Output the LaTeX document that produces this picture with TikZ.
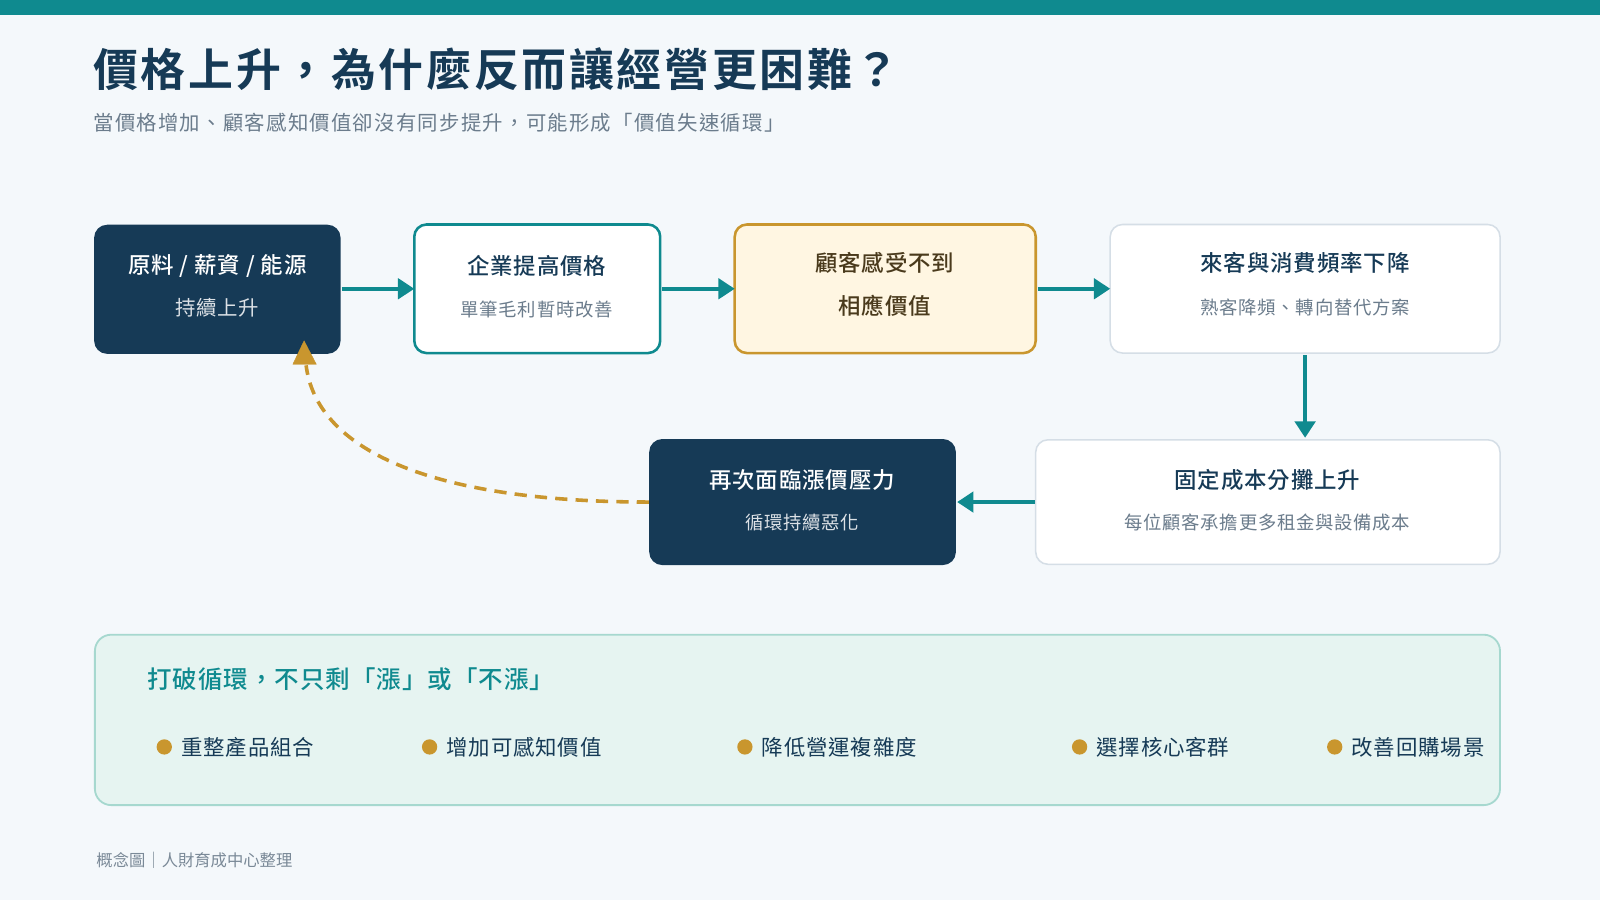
\documentclass[tikz,border=0pt]{standalone}
\usepackage{fontspec}
\setmainfont{Noto Sans CJK TC}[BoldFont={Noto Sans CJK TC Medium}]
\newfontfamily\titlefont{Noto Sans CJK TC Bold}[LetterSpace=6]
\newfontfamily\spacedfont{Noto Sans CJK TC}[LetterSpace=4,BoldFont={Noto Sans CJK TC Medium}]
\newfontfamily\subfont{Noto Sans CJK TC}[LetterSpace=6]
\usetikzlibrary{arrows.meta}
\definecolor{teal}{HTML}{0F8A8F}
\definecolor{navy}{HTML}{163A56}
\definecolor{bgc}{HTML}{F4F8FB}
\definecolor{gold}{HTML}{C9962E}
\definecolor{ylw}{HTML}{FFF6E2}
\definecolor{lteal}{HTML}{E6F4F1}
\definecolor{lborder}{HTML}{A6D8CF}
\definecolor{gborder}{HTML}{D5DEE6}
\definecolor{gtext}{HTML}{6B7C8C}
\definecolor{brown}{HTML}{4A3A1C}
\begin{document}
\begin{tikzpicture}[x=1pt,y=-1pt,
 box/.style={rounded corners=12pt,line width=1.5pt},
 arr/.style={teal,line width=3.5pt,-{Triangle[length=16pt,width=20pt]}},
 bt/.style={font=\spacedfont\fontsize{22}{26}\selectfont\bfseries},
 st/.style={font=\spacedfont\fontsize{18}{22}\selectfont},
 bul/.style={font=\spacedfont\fontsize{21}{24}\selectfont,text=navy,anchor=west}]
\fill[bgc] (0,0) rectangle (1568,882);
\useasboundingbox (0,0) rectangle (1568,882);
\fill[teal] (0,0) rectangle (1568,15);
\node[anchor=west,text=navy,font=\titlefont\fontsize{44}{50}\selectfont] (title) at (88,68) {價格上升，為什麼反而讓經營更困難？};
\node[anchor=west,text=gtext,font=\subfont\fontsize{20}{24}\selectfont] (sub) at (88,120) {當價格增加、顧客感知價值卻沒有同步提升，可能形成「價值失速循環」};
% boxes
\draw[box,fill=navy,draw=navy] (93,221) rectangle (333,346);
\node[bt,text=white] (a1) at (213,261) {原料 / 薪資 / 能源};
\node[st,text=white!85!navy,font=\spacedfont\fontsize{20}{24}\selectfont] (a2) at (213,302) {持續上升};
\draw[box,fill=white,draw=teal,line width=2.5pt] (406,220) rectangle (647,346);
\node[bt,text=navy] (b1) at (526,261) {企業提高價格};
\node[st,text=gtext] (b2) at (526,303) {單筆毛利暫時改善};
\draw[box,fill=ylw,draw=gold,line width=2.5pt] (720,220) rectangle (1015,346);
\node[bt,text=brown] (c1) at (867,258) {顧客感受不到};
\node[bt,text=brown] (c2) at (867,300) {相應價值};
\draw[box,fill=white,draw=gborder] (1088,220) rectangle (1470,346);
\node[bt,text=navy] (d1) at (1279,258) {來客與消費頻率下降};
\node[st,text=gtext] (d2) at (1279,301) {熟客降頻、轉向替代方案};
\draw[box,fill=white,draw=gborder] (1015,431) rectangle (1470,553);
\node[bt,text=navy] (e1) at (1242,470) {固定成本分攤上升};
\node[st,text=gtext] (e2) at (1242,512) {每位顧客承擔更多租金與設備成本};
\draw[box,fill=navy,draw=navy] (637,431) rectangle (936,553);
\node[bt,text=white] (f1) at (786,470) {再次面臨漲價壓力};
\node[st,text=white!85!navy] (f2) at (786,512) {循環持續惡化};
% arrows
\coordinate (a) at (335,283); \coordinate (b) at (406,283);
\draw[arr] (a) -- (b);
\coordinate (b0) at (649,283); \coordinate (c) at (720,283);
\draw[arr] (b0) -- (c);
\coordinate (c0) at (1017,283); \coordinate (d) at (1088,283);
\draw[arr] (c0) -- (d);
\coordinate (d0) at (1279,348); \coordinate (e) at (1279,429);
\draw[arr] (d0) -- (e);
\coordinate (e0) at (1014,492); \coordinate (f) at (938,492);
\draw[arr] (e0) -- (f);
\coordinate (f0) at (636,492); \coordinate (ab) at (298,334);
\draw[gold,line width=3.5pt,dash pattern=on 12pt off 8pt] (f0) .. controls (420,492) and (310,440) .. (300,358);
\draw[gold,fill=gold] (ab) -- (287,357) -- (310,357) -- cycle;
% bottom box
\draw[rounded corners=16pt,fill=lteal,draw=lborder,line width=1.8pt] (93,622) rectangle (1470,789);
\node[anchor=west,text=teal,font=\spacedfont\fontsize{24}{28}\selectfont\bfseries] (bt) at (141,666) {打破循環，不只剩「漲」或「不漲」};
\foreach \x/\t in {161/重整產品組合,421/增加可感知價值,730/降低營運複雜度,1058/選擇核心客群,1308/改善回購場景}{
 \fill[gold] (\x,732) circle (7.5);
 \node[bul] at (\x+13,732) {\t};
}
\node[anchor=west,text=gtext!90,font=\fontsize{16}{20}\selectfont] (foot) at (91,843) {概念圖｜人財育成中心整理};
\end{tikzpicture}
\end{document}
